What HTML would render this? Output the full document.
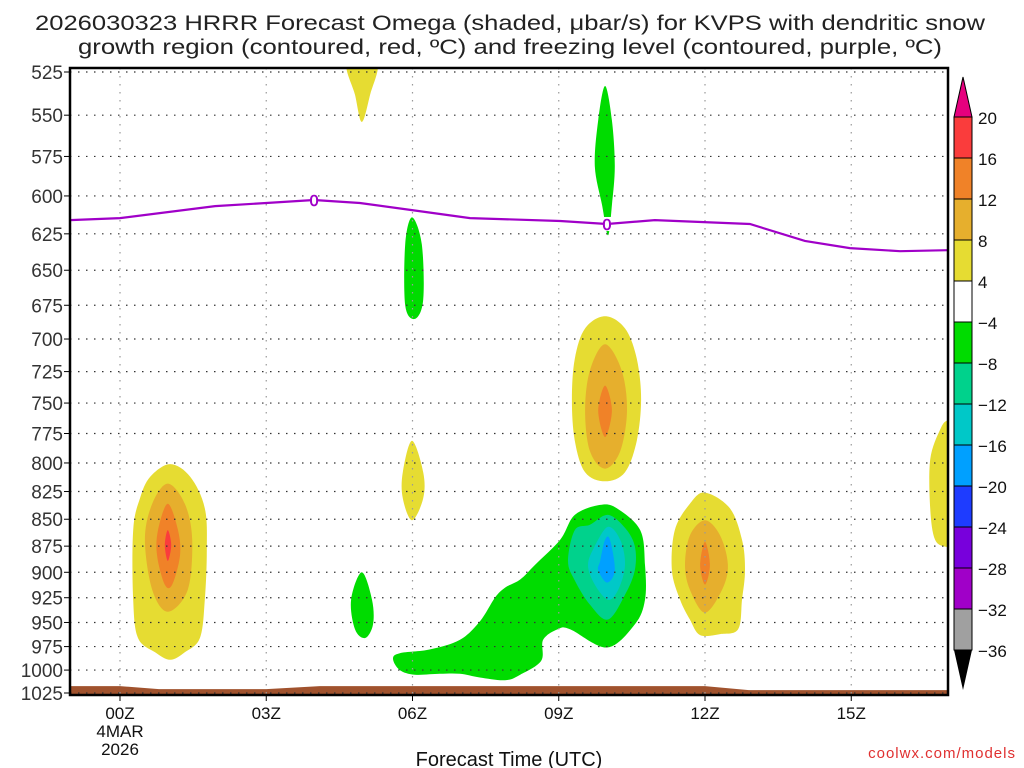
<!DOCTYPE html>
<html><head><meta charset="utf-8"><style>
html,body{margin:0;padding:0;background:#fff;width:1024px;height:768px;overflow:hidden}
svg{display:block;font-family:"Liberation Sans","DejaVu Sans",sans-serif}
</style></head><body>
<svg id="chart" width="1024" height="768" viewBox="0 0 1024 768" xmlns="http://www.w3.org/2000/svg">
<text x="35" y="30" font-size="21" textLength="950" lengthAdjust="spacingAndGlyphs" fill="#222">2026030323 HRRR Forecast Omega (shaded, μbar/s) for KVPS with dendritic snow</text>
<text x="78" y="54" font-size="21" textLength="864" lengthAdjust="spacingAndGlyphs" fill="#222">growth region (contoured, red, ºC) and freezing level (contoured, purple, ºC)</text>
<g id="plot"></g>
<text x="509" y="766" font-size="20" text-anchor="middle" fill="#111">Forecast Time (UTC)</text>
<text x="1016" y="758" font-size="15" text-anchor="end" fill="#e03030" letter-spacing="1">coolwx.com/models</text>
</svg>
<script>
// ---- data ----
const pressureTicks=[525,550,575,600,625,650,675,700,725,750,775,800,825,850,875,900,925,950,975,1000,1025];
const hourTicks=[0,3,6,9,12,15];
const hourTickLabels=["00Z","03Z","06Z","09Z","12Z","15Z"];
const colorbarLevels=[20,16,12,8,4,-4,-8,-12,-16,-20,-24,-28,-32,-36];
const colorbarColors=["#fa3c3c","#f08228","#e6af2d","#e6dc32","#ffffff","#00dc00","#00d28c","#00c8c8","#00a0ff","#1e3cff","#7800dc","#a000c8","#a0a0a0"];
const freezeHours=[-1.03,0,1.95,3,3.98,4.92,5.99,7.18,9.03,9.99,10.97,12.92,14.05,14.97,16,16.98];
const freezePressure=[615.8,614.5,606.6,604.6,602.6,604.6,609.2,614.5,616.4,618.4,615.8,618.4,629.8,634.7,636.8,636.1];
const groundHours=[-1.03,0,0.8,3,4.1,12,12.9,16.98];
const groundPressure=[1017.4,1017.4,1020.7,1020.7,1017.4,1017.4,1021.8,1021.8];
const greenBigH=[5.60,5.74,6.36,6.97,7.38,7.69,7.90,8.21,8.51,9.03,9.33,9.85,10.19,10.67,10.77,10.77,10.56,9.99,9.23,8.98,8.68,8.64,8.21,7.90,7.38,6.97,6.56,6.05,5.74];
const greenBigP=[988,982,978,968,949,925,915,907,893,869,846,837,840,860,893,927,952,976,957,957,968,990,1005,1011,1008,1004,1004,1005,1000];
const tealH=[9.33,9.64,10.01,10.36,10.56,10.56,10.36,10.01,9.64,9.33,9.19];
const tealP=[860,855,846,858,875,898,922,947,932,908,889];
const cyanH=[9.74,10.01,10.26,10.36,10.22,10.01,9.74,9.60];
const cyanP=[875,857,869,893,917,927,912,893];
const blueH=[9.85,9.95,10.05,10.15,9.99,9.81];
const blueP=[889,869,869,898,910,898];
const y12H=[12.0,12.51,12.76,12.82,12.76,12.68,12.31,11.9,11.69,11.49,11.32,11.38,11.69];
const y12P=[826,840,869,898,927,957,962,963,947,927,898,860,836];
const g12H=[12.0,12.31,12.47,12.35,12.0,11.69,11.59,11.69];
const g12P=[851,865,893,917,940,917,893,865];
const o12H=[12.0,12.1,12.0,11.9];
const o12P=[871,893,912,893];
const y10H=[9.95,10.36,10.6,10.69,10.6,10.36,9.95,9.54,9.33,9.27,9.33,9.54];
const y10P=[683,692,715,747,781,808,816,808,781,747,715,692];
const g10H=[9.95,10.29,10.4,10.26,9.95,9.64,9.54,9.64];
const g10P=[704,724,756,790,805,790,756,724];
const o10H=[9.95,10.09,9.95,9.81];
const o10P=[736,756,778,756];
const y01H=[1.03,1.44,1.74,1.78,1.74,1.64,1.33,1.03,0.72,0.37,0.27,0.27,0.41,0.62];
const y01P=[801,812,840,879,927,966,981,989,981,966,927,860,831,812];
const g01H=[0.98,1.33,1.48,1.39,0.98,0.66,0.51,0.66];
const g01P=[818,836,869,917,939,917,869,836];
const o01H=[0.98,1.19,1.23,1.07,0.92,0.76,0.78];
const o01P=[836,860,884,912,912,884,860];
const r01H=[0.98,1.05,0.98,0.92];
const r01P=[860,874,889,874];
const y06H=[5.99,6.22,6.22,5.99,5.8,5.8];
const y06P=[781,808,831,851,831,808];
const gr06H=[5.99,6.19,6.22,6.05,5.85,5.85];
const gr06P=[614,632,671,685,675,632];
const gr05H=[4.96,5.17,5.19,5.03,4.82,4.74];
const gr05P=[900,927,952,966,957,927];
const yTopH=[4.66,5.27,5.13,4.96,4.82];
const yTopP=[520,520,538,554,538];
const grTopH=[9.95,10.09,10.15,10.09,10.01,9.89,9.74,9.81];
const grTopP=[533,553,581,606,626,606,581,553];
const yEdgeH=[17.3,16.98,16.82,16.62,16.62,16.72,16.98,17.3];
const yEdgeP=[764,764,772,797,840,869,876,876];
const shapes=[
 ["green-big","#00dc00",greenBigH,greenBigP],["teal-core","#00d28c",tealH,tealP],["cyan-core","#00c8c8",cyanH,cyanP],["blue-core","#00a0ff",blueH,blueP],
 ["yellow-12z","#e6dc32",y12H,y12P],["gold-12z","#e6af2d",g12H,g12P],["orange-12z","#f08228",o12H,o12P],
 ["yellow-10z","#e6dc32",y10H,y10P],["gold-10z","#e6af2d",g10H,g10P],["orange-10z","#f08228",o10H,o10P],
 ["yellow-01z","#e6dc32",y01H,y01P],["gold-01z","#e6af2d",g01H,g01P],["orange-01z","#f08228",o01H,o01P],["red-01z","#fa3c3c",r01H,r01P],
 ["yellow-06z","#e6dc32",y06H,y06P],["green-06z-upper","#00dc00",gr06H,gr06P],["green-05z","#00dc00",gr05H,gr05P],
 ["yellow-top","#e6dc32",yTopH,yTopP],["green-10z-upper","#00dc00",grTopH,grTopP],["yellow-edge","#e6dc32",yEdgeH,yEdgeP]
];
// ---- axes ----
const L=70,R=948,T=68,B=695,Y0=72,Y1=693,P0=525,P1=1025;
const X=h=>120+48.75*h;
const Y=p=>Y0+(Y1-Y0)*Math.log(p/P0)/Math.log(P1/P0);
const NS="http://www.w3.org/2000/svg";
const plot=document.getElementById('plot');
function mk(t,a,parent){const e=document.createElementNS(NS,t);for(const k in a)e.setAttribute(k,a[k]);(parent||plot).appendChild(e);return e;}
function smooth(pts){
 const n=pts.length;let d='M'+pts[0][0].toFixed(1)+','+pts[0][1].toFixed(1);
 for(let i=0;i<n;i++){
  const p0=pts[(i-1+n)%n],p1=pts[i],p2=pts[(i+1)%n],p3=pts[(i+2)%n];
  const c1x=p1[0]+(p2[0]-p0[0])/6,c1y=p1[1]+(p2[1]-p0[1])/6;
  const c2x=p2[0]-(p3[0]-p1[0])/6,c2y=p2[1]-(p3[1]-p1[1])/6;
  d+=` C${c1x.toFixed(1)},${c1y.toFixed(1)} ${c2x.toFixed(1)},${c2y.toFixed(1)} ${p2[0].toFixed(1)},${p2[1].toFixed(1)}`;
 }
 return d+'Z';
}
const clip=mk('clipPath',{id:'pc'});mk('rect',{x:L,y:T,width:R-L,height:B-T},clip);
const g=mk('g',{'clip-path':'url(#pc)'});


shapes.forEach(s=>{
 const pts=s[2].map((h,i)=>[X(h),Y(s[3][i])]);
 const e=mk('path',{d:smooth(pts),fill:s[1]},g);
 
 
});
let gp='M'+X(groundHours[0])+','+B;
groundHours.forEach((h,i)=>{gp+=' L'+X(h).toFixed(1)+','+Y(groundPressure[i]).toFixed(1);});
gp+=' L'+X(groundHours[groundHours.length-1])+','+B+' Z';
const gr=mk('path',{d:gp,fill:'#a0522d'},g);


pressureTicks.forEach(p=>{
 const e=mk('line',{x1:L,x2:R,y1:Y(p),y2:Y(p),stroke:'#333','stroke-width':1.2,'stroke-dasharray':'1.5,6.5'},g);
 
 
});
hourTicks.forEach(h=>{
 const e=mk('line',{x1:X(h),x2:X(h),y1:T,y2:B,stroke:'#999','stroke-width':1.2,'stroke-dasharray':'1.5,6.5'},g);
 
 
});
const fl=mk('polyline',{points:freezeHours.map((h,i)=>X(h).toFixed(1)+','+Y(freezePressure[i]).toFixed(1)).join(' '),fill:'none',stroke:'#a000c8','stroke-width':2.2},g);


[[3.98,602.6],[9.99,618.4]].forEach(c=>{
 const r=mk('rect',{x:X(c[0])-4,y:Y(c[1])-7,width:8,height:14,fill:'#fff'},g);
 
 
 const t=mk('text',{x:X(c[0]),y:Y(c[1])+6,'font-size':16,'text-anchor':'middle',fill:'#a000c8','stroke':'#a000c8','stroke-width':0.6},g);
 t.textContent='0';
 
 
});
const fr=mk('rect',{x:L,y:T,width:R-L,height:B-T,fill:'none',stroke:'#000','stroke-width':2.5});


pressureTicks.forEach(p=>{
 const tk=mk('line',{x1:L-6,x2:L,y1:Y(p),y2:Y(p),stroke:'#000','stroke-width':1});
 
 
 const t=mk('text',{x:L-7,y:Y(p)+7,'font-size':19,'text-anchor':'end',fill:'#333'});
 t.textContent=p;
 
 
});
hourTicks.forEach((h,i)=>{
 const tk=mk('line',{x1:X(h),x2:X(h),y1:B,y2:B+6,stroke:'#000','stroke-width':1});
 
 
 const t=mk('text',{x:X(h),y:B+24,'font-size':17,'text-anchor':'middle',fill:'#111'});
 t.textContent=hourTickLabels[i];
 
 
});
['4MAR','2026'].forEach((s,i)=>{
 const t=mk('text',{x:X(0),y:B+42+i*18,'font-size':17,'text-anchor':'middle',fill:'#111'});
 t.textContent=s;
 
 
});
const cbx=954,cbw=18,cbt=117,cbh=41;
const tri1=mk('polygon',{points:`${cbx},${cbt} ${cbx+cbw},${cbt} ${cbx+cbw/2},${cbt-40}`,fill:'#e6007e',stroke:'#000','stroke-width':1});


colorbarColors.forEach((c,i)=>{
 const r=mk('rect',{x:cbx,y:cbt+i*cbh,width:cbw,height:cbh,fill:c,stroke:'#000','stroke-width':1});
 
 
});
const cbb=cbt+colorbarColors.length*cbh;
const tri2=mk('polygon',{points:`${cbx},${cbb} ${cbx+cbw},${cbb} ${cbx+cbw/2},${cbb+40}`,fill:'#000'});


colorbarLevels.forEach((v,i)=>{
 const t=mk('text',{x:978,y:cbt+i*cbh+7,'font-size':17,fill:'#111'});
 t.textContent=v<0?'−'+(-v):String(v);
 
 
});
</script>
</body></html>
